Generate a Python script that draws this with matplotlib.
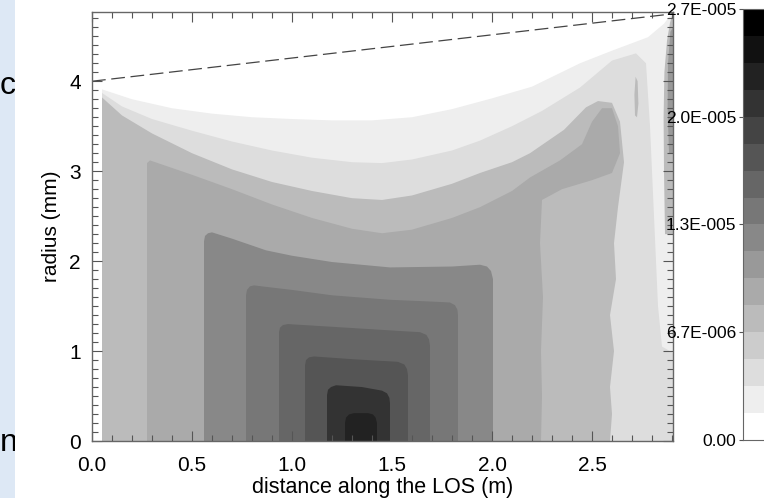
import numpy as np
import matplotlib
matplotlib.use('Agg')
import matplotlib.pyplot as plt
from matplotlib.colors import ListedColormap, BoundaryNorm
from matplotlib.cm import ScalarMappable

plt.rcParams['font.family'] = ['Liberation Sans', 'DejaVu Sans']

# colour scale (16 grey levels, 0 .. 2.7E-005)
vmax = 2.7e-5
n_lev = 16
cb_ticks = [0.0, 6.75e-6, 1.35e-5, 2.025e-5, 2.7e-5]
cb_labels = ['0.00', '6.7E-006', '1.3E-005', '2.0E-005', '2.7E-005']

# contour band outlines: (distance m, radius mm)
l1_x = [0.05, 0.05, 0.2, 0.4, 0.6, 0.8, 1.0, 1.2, 1.4, 1.6, 1.8, 2.0, 2.2, 2.44, 2.6, 2.78, 2.86,
        2.905, 2.905]
l1_r = [0.0, 3.91, 3.80, 3.70, 3.64, 3.60, 3.58, 3.565, 3.565, 3.60, 3.69, 3.81, 3.94, 4.20, 4.34, 4.49,
        4.64, 4.77, 0.0]

l2_x = [0.05, 0.05, 0.15, 0.3, 0.5, 0.7, 0.9, 1.1, 1.3, 1.45, 1.6, 1.8, 1.94, 2.1, 2.25, 2.44, 2.6, 2.72,
        2.77, 2.79, 2.81, 2.83, 2.85, 2.905, 2.905]
l2_r = [0.0, 3.87, 3.72, 3.58, 3.45, 3.33, 3.23, 3.15, 3.10, 3.09, 3.13, 3.23, 3.34, 3.50, 3.67, 3.93,
        4.23, 4.31, 4.20, 3.50, 2.50, 1.50, 1.05, 0.98, 0.0]

a_x = [0.05, 0.05, 0.15, 0.3, 0.5, 0.7, 0.9, 1.1, 1.3, 1.45, 1.6, 1.8, 1.94, 2.1, 2.19, 2.36, 2.47, 2.53,
       2.6, 2.64, 2.66, 2.63, 2.61, 2.62, 2.59, 2.61, 2.59, 2.6, 2.59]
a_r = [0.0, 3.82, 3.62, 3.42, 3.20, 3.02, 2.88, 2.78, 2.70, 2.68, 2.73, 2.86, 2.98, 3.10, 3.20, 3.46,
       3.71, 3.78, 3.76, 3.55, 3.10, 2.60, 2.20, 1.80, 1.40, 1.00, 0.60, 0.30, 0.0]

b_x = [0.275, 0.275, 0.29, 0.5, 0.7, 0.9, 1.1, 1.3, 1.45, 1.6, 1.8, 1.94, 2.1, 2.19, 2.34, 2.45, 2.5,
       2.55, 2.6, 2.63, 2.64, 2.6, 2.5, 2.35, 2.25, 2.24, 2.255, 2.245, 2.25, 2.245]
b_r = [0.0, 3.09, 3.12, 2.96, 2.80, 2.63, 2.48, 2.36, 2.31, 2.35, 2.48, 2.60, 2.78, 2.93, 3.12, 3.30,
       3.55, 3.70, 3.70, 3.50, 3.20, 2.98, 2.90, 2.80, 2.68, 2.20, 1.60, 1.00, 0.50, 0.0]

c_x = [0.56, 0.56, 0.565, 0.58, 0.6, 0.7, 0.87, 1.0, 1.2, 1.49, 1.8, 1.94, 1.975, 1.995, 2.005, 2.005]
c_r = [0.0, 2.22, 2.28, 2.31, 2.32, 2.25, 2.12, 2.06, 1.99, 1.93, 1.94, 1.96, 1.94, 1.89, 1.80, 0.0]

d_x = [0.77, 0.77, 0.775, 0.79, 0.81, 1.0, 1.2, 1.49, 1.7, 1.79, 1.815, 1.827, 1.83, 1.83]
d_r = [0.0, 1.62, 1.68, 1.72, 1.73, 1.68, 1.62, 1.57, 1.55, 1.54, 1.51, 1.46, 1.40, 0.0]

e_x = [0.935, 0.935, 0.94, 0.955, 0.98, 1.2, 1.49, 1.64, 1.672, 1.685, 1.69, 1.69]
e_r = [0.0, 1.21, 1.26, 1.29, 1.30, 1.27, 1.23, 1.21, 1.18, 1.13, 1.06, 0.0]

f_x = [1.065, 1.065, 1.07, 1.085, 1.11, 1.3, 1.53, 1.562, 1.575, 1.58, 1.58]
f_r = [0.0, 0.84, 0.90, 0.93, 0.94, 0.91, 0.88, 0.85, 0.80, 0.73, 0.0]

g_x = [1.175, 1.175, 1.18, 1.195, 1.22, 1.35, 1.45, 1.475, 1.487, 1.49, 1.49]
g_r = [0.0, 0.51, 0.57, 0.60, 0.62, 0.60, 0.56, 0.53, 0.48, 0.42, 0.0]

h_x = [1.265, 1.265, 1.27, 1.285, 1.31, 1.38, 1.405, 1.418, 1.425, 1.425]
h_r = [0.0, 0.20, 0.26, 0.295, 0.31, 0.31, 0.295, 0.26, 0.20, 0.0]

edge_x = [2.865, 2.86, 2.858, 2.862, 2.875, 2.89, 2.905, 2.905]
edge_r = [2.30, 3.00, 3.60, 4.10, 4.45, 4.65, 4.77, 2.30]

edgedark_x = [2.885, 2.878, 2.88, 2.892, 2.905, 2.905]
edgedark_r = [3.20, 3.70, 4.20, 4.55, 4.60, 3.20]

spot_x = [2.715, 2.712, 2.718, 2.728, 2.732, 2.725]
spot_r = [3.62, 3.85, 4.05, 4.00, 3.75, 3.60]

# grey level index of each band
bands = [(1, l1_x, l1_r), (2, l2_x, l2_r), (4, a_x, a_r), (4, spot_x, spot_r), (4, edge_x, edge_r),
         (6, edgedark_x, edgedark_r), (5, b_x, b_r), (7, c_x, c_r), (8, d_x, d_r), (9, e_x, e_r),
         (10, f_x, f_r), (12, g_x, g_r), (13, h_x, h_r)]

# line of sight (dashed)
los_x = [0.0, 2.905]
los_r = [4.0, 4.75]

dv = vmax / n_lev
bounds = np.linspace(0, vmax, n_lev + 1)
greys = [str(1 - i / (n_lev - 1)) for i in range(n_lev)]
cmap = ListedColormap(greys)
norm = BoundaryNorm(bounds, cmap.N)

fig = plt.figure(figsize=(7.64, 4.98), dpi=100)

# bit of the slide behind the figure
strip = fig.add_axes([0, 0, 15 / 764, 1])
strip.set_facecolor('#dde8f5')
strip.set_xlim(0, 1)
strip.set_ylim(0, 1)
strip.set_xticks([])
strip.set_yticks([])
for s in strip.spines.values():
    s.set_visible(False)
strip.text(0.0, 1 - 86 / 498, 'ch', fontsize=23, va='center', ha='left', clip_on=True)
strip.text(0.0, 1 - 443 / 498, 'nt', fontsize=23, va='center', ha='left', clip_on=True)

ax = fig.add_axes([92 / 764, 1 - 441 / 498, 581 / 764, 429 / 498])
for lev, xs, rs in bands:
    ax.fill(xs, rs, color=cmap(norm(lev * dv + dv / 2)), lw=0, antialiased=True)

ax.plot(los_x, los_r, ls=(0, (11, 4.5)), color='#444444', lw=0.9)

ax.set_xlim(0, 2.905)
ax.set_ylim(0, 4.77)
ax.set_xticks([0.0, 0.5, 1.0, 1.5, 2.0, 2.5])
ax.set_xticklabels(['0.0', '0.5', '1.0', '1.5', '2.0', '2.5'])
ax.set_yticks([0, 1, 2, 3, 4])
ax.set_xticks(np.arange(0, 2.91, 0.1), minor=True)
ax.set_yticks(np.arange(0, 4.77, 0.1), minor=True)
ax.tick_params(which='both', direction='in', top=True, right=True, color='#555555', width=0.8,
               labelsize=15)
ax.tick_params(which='major', length=7)
ax.tick_params(which='minor', length=4)
ax.tick_params(axis='x', pad=11)
ax.tick_params(axis='y', pad=8)
for s in ax.spines.values():
    s.set_color('#666666')
    s.set_linewidth(1.0)
ax.set_xlabel('distance along the LOS (m)', fontsize=15.5, labelpad=1)
ax.set_ylabel('radius (mm)', fontsize=15, labelpad=6)

cax = fig.add_axes([743 / 764, 1 - 440 / 498, 40 / 764, 431 / 498])
cb = fig.colorbar(ScalarMappable(norm=norm, cmap=cmap), cax=cax)
cb.set_ticks(cb_ticks)
cb.set_ticklabels(cb_labels)
cb.ax.yaxis.set_ticks_position('left')
cb.ax.tick_params(length=3, width=0.8, pad=2, labelsize=12.5, color='#555555')
cb.outline.set_edgecolor('#666666')
cb.outline.set_linewidth(0.8)
cb.ax.minorticks_off()

fig.savefig('out.png', dpi=100)
